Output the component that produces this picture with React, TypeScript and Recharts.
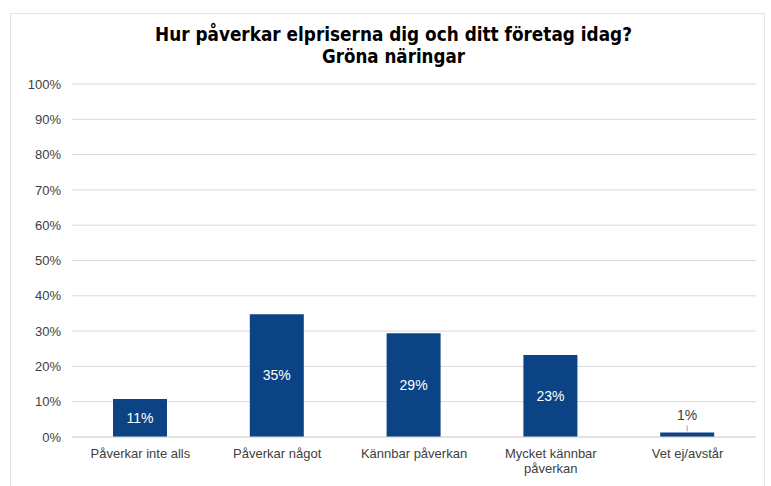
import React from 'react';
import { BarChart, Bar, XAxis, YAxis, CartesianGrid, LabelList, Text } from 'recharts';

const categories = ['Påverkar inte alls', 'Påverkar något', 'Kännbar påverkan', 'Mycket kännbar påverkan', 'Vet ej/avstår'];
const values = [10.8, 34.8, 29.4, 23.2, 1.3];
const yTicks = [0, 10, 20, 30, 40, 50, 60, 70, 80, 90, 100];
const titleLine1 = 'Hur påverkar elpriserna dig och ditt företag idag?';
const titleLine2 = 'Gröna näringar';

const data = categories.map((c, i) => ({ name: c, value: values[i] }));

const FONT = '"Liberation Sans", Arial, sans-serif';
const TITLE_FONT = '"DejaVu Sans", "Liberation Sans", Arial, sans-serif';
const BAR_COLOR = '#0b4384';

const XTick = (props: any) => {
  const { x, y, payload } = props;
  return (
    <Text
      x={x}
      y={y + 4}
      width={122}
      textAnchor="middle"
      verticalAnchor="start"
      lineHeight={15}
      fontSize={13}
      fontFamily={FONT}
      fill="#404040"
    >
      {payload.value}
    </Text>
  );
};

const BarLabel = (props: any) => {
  const { x, y, width, height, value } = props;
  const txt = `${Math.round(value)}%`;
  const cx = x + width / 2;
  if (height < 20) {
    return (
      <g>
        <line x1={cx} x2={cx} y1={y - 7} y2={y - 1} stroke="#a6a6a6" strokeWidth={1} />
        <text x={cx} y={y - 12} textAnchor="middle" fontSize={14} fontFamily={FONT} fill="#404040">
          {txt}
        </text>
      </g>
    );
  }
  return (
    <text
      x={cx}
      y={y + height / 2}
      dy="0.35em"
      textAnchor="middle"
      fontSize={14}
      fontFamily={FONT}
      fill="#ffffff"
    >
      {txt}
    </text>
  );
};

export default function App() {
  return (
    <div style={{ position: 'absolute', left: 0, top: 0, width: 771, height: 486, background: '#fff', overflow: 'hidden' }}>
      <div
        style={{
          position: 'absolute',
          left: 10,
          top: 13,
          width: 755,
          height: 490,
          border: '1.5px solid #e3e3e3',
          boxSizing: 'border-box',
        }}
      />
      <svg style={{ position: 'absolute', left: 0, top: 0 }} width={771} height={80}>
        <text
          x={393.5}
          y={41}
          textAnchor="middle"
          fontSize={19}
          fontWeight="bold"
          fontFamily={TITLE_FONT}
          fill="#000"
          textLength={477}
          lengthAdjust="spacingAndGlyphs"
        >
          {titleLine1}
        </text>
        <text
          x={393.5}
          y={63}
          textAnchor="middle"
          fontSize={19}
          fontWeight="bold"
          fontFamily={TITLE_FONT}
          fill="#000"
          textLength={143}
          lengthAdjust="spacingAndGlyphs"
        >
          {titleLine2}
        </text>
      </svg>
      <div style={{ position: 'absolute', left: 0, top: 0 }}>
        <BarChart
          width={771}
          height={486}
          data={data}
          margin={{ top: 84, right: 15, bottom: 9, left: 0 }}
          barSize={54}
        >
          <CartesianGrid vertical={false} stroke="#d9d9d9" />
          <XAxis
            dataKey="name"
            height={40}
            axisLine={{ stroke: '#d9d9d9' }}
            tickLine={false}
            tick={<XTick />}
            interval={0}
          />
          <YAxis
            width={72}
            domain={[0, 100]}
            ticks={yTicks}
            tickFormatter={(v: number) => `${v}%`}
            axisLine={false}
            tickLine={false}
            tickMargin={5}
            tick={{ fontSize: 13, fontFamily: FONT, fill: '#404040' }}
            interval={0}
          />
          <Bar dataKey="value" fill={BAR_COLOR} isAnimationActive={false}>
            <LabelList dataKey="value" content={<BarLabel />} />
          </Bar>
        </BarChart>
      </div>
    </div>
  );
}
